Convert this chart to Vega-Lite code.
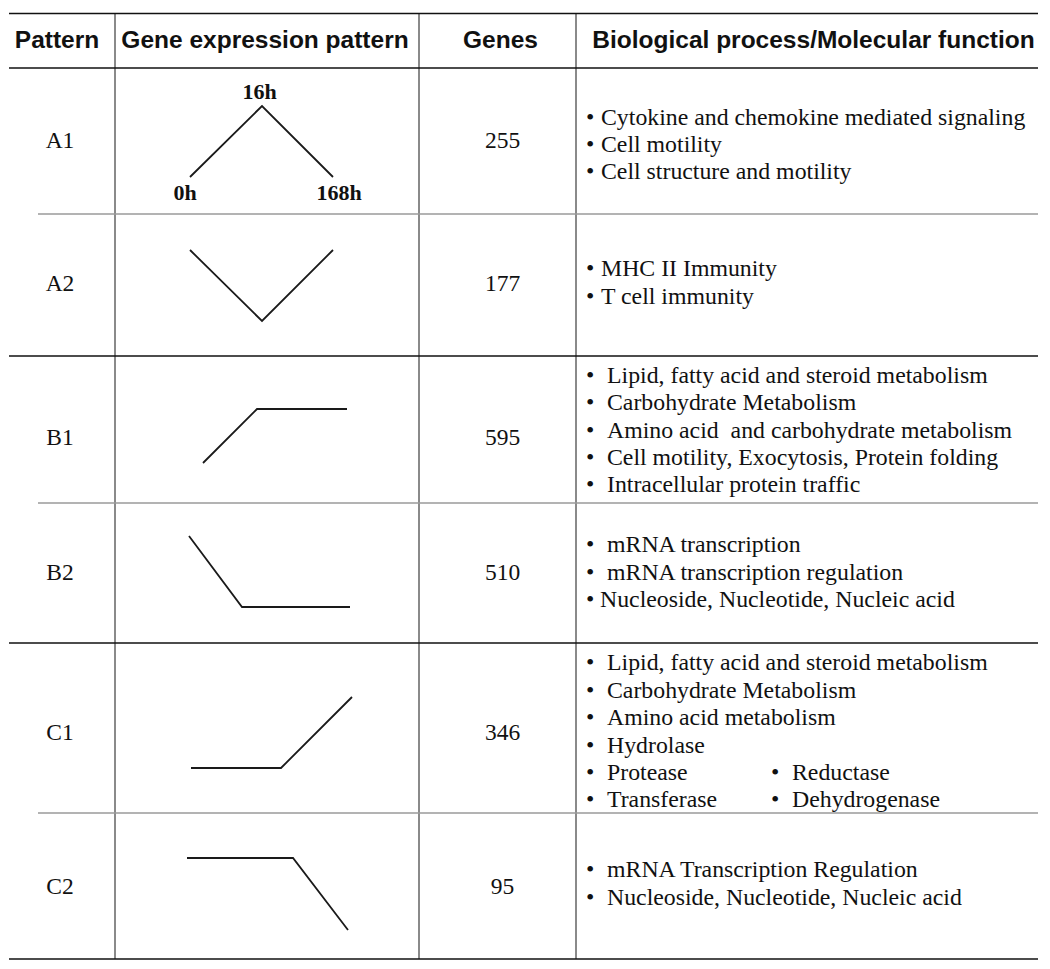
{
  "$schema": "https://vega.github.io/schema/vega-lite/v6.json",
  "width": 1050,
  "height": 969,
  "autosize": "none",
  "padding": 0,
  "background": "white",
  "config": {"view": {"stroke": null}},
  "datasets": {
    "borders": [
      {"x": 115, "x2": 115, "y": 13.5, "y2": 959, "k": "vert"},
      {"x": 419, "x2": 419, "y": 13.5, "y2": 959, "k": "vert"},
      {"x": 576, "x2": 576, "y": 13.5, "y2": 959, "k": "vert"},
      {"x": 38, "x2": 1038, "y": 214, "y2": 214, "k": "thin"},
      {"x": 38, "x2": 1038, "y": 503, "y2": 503, "k": "thin"},
      {"x": 38, "x2": 1038, "y": 813, "y2": 813, "k": "thin"},
      {"x": 9, "x2": 1038, "y": 13.5, "y2": 13.5, "k": "thick"},
      {"x": 9, "x2": 1038, "y": 68, "y2": 68, "k": "thick"},
      {"x": 9, "x2": 1038, "y": 356, "y2": 356, "k": "thick"},
      {"x": 9, "x2": 1038, "y": 643, "y2": 643, "k": "thick"},
      {"x": 9, "x2": 1038, "y": 959, "y2": 959, "k": "thick"}
    ],
    "header": [
      {"x": 57, "y": 48, "t": "Pattern"},
      {"x": 265, "y": 48, "t": "Gene expression pattern"},
      {"x": 500.5, "y": 48, "t": "Genes"},
      {"x": 813.5, "y": 48, "t": "Biological process/Molecular function"}
    ],
    "cells": [
      {"x": 60, "y": 148, "t": "A1"},
      {"x": 60, "y": 291, "t": "A2"},
      {"x": 60, "y": 445, "t": "B1"},
      {"x": 60, "y": 580, "t": "B2"},
      {"x": 60, "y": 740, "t": "C1"},
      {"x": 60, "y": 894, "t": "C2"},
      {"x": 502.5, "y": 148, "t": "255"},
      {"x": 502.5, "y": 291, "t": "177"},
      {"x": 502.5, "y": 445, "t": "595"},
      {"x": 502.5, "y": 580, "t": "510"},
      {"x": 502.5, "y": 740, "t": "346"},
      {"x": 502.5, "y": 894, "t": "95"}
    ],
    "times": [
      {"x": 259.5, "y": 99, "t": "16h"},
      {"x": 185, "y": 200, "t": "0h"},
      {"x": 339, "y": 200, "t": "168h"}
    ],
    "patterns": [
      {"p": "A1", "i": 0, "x": 190, "y": 177},
      {"p": "A1", "i": 1, "x": 262, "y": 106},
      {"p": "A1", "i": 2, "x": 333, "y": 177},
      {"p": "A2", "i": 0, "x": 190, "y": 250},
      {"p": "A2", "i": 1, "x": 262, "y": 321},
      {"p": "A2", "i": 2, "x": 333, "y": 250},
      {"p": "B1", "i": 0, "x": 203, "y": 463},
      {"p": "B1", "i": 1, "x": 257, "y": 409},
      {"p": "B1", "i": 2, "x": 347, "y": 409},
      {"p": "B2", "i": 0, "x": 189, "y": 536},
      {"p": "B2", "i": 1, "x": 242, "y": 607},
      {"p": "B2", "i": 2, "x": 350, "y": 607},
      {"p": "C1", "i": 0, "x": 191, "y": 768},
      {"p": "C1", "i": 1, "x": 281, "y": 768},
      {"p": "C1", "i": 2, "x": 352, "y": 697},
      {"p": "C2", "i": 0, "x": 187, "y": 858},
      {"p": "C2", "i": 1, "x": 293, "y": 858},
      {"p": "C2", "i": 2, "x": 348, "y": 930}
    ],
    "bio": [
      {"x": 586, "y": 125, "t": "•"},
      {"x": 601, "y": 125, "t": "Cytokine and chemokine mediated signaling"},
      {"x": 586, "y": 152, "t": "•"},
      {"x": 601, "y": 152, "t": "Cell motility"},
      {"x": 586, "y": 179, "t": "•"},
      {"x": 601, "y": 179, "t": "Cell structure and motility"},
      {"x": 586, "y": 276, "t": "•"},
      {"x": 601, "y": 276, "t": "MHC II Immunity"},
      {"x": 586, "y": 304, "t": "•"},
      {"x": 601, "y": 304, "t": "T cell immunity"},
      {"x": 586, "y": 383, "t": "•"},
      {"x": 607, "y": 383, "t": "Lipid, fatty acid and steroid metabolism"},
      {"x": 586, "y": 410, "t": "•"},
      {"x": 607, "y": 410, "t": "Carbohydrate Metabolism"},
      {"x": 586, "y": 437.5, "t": "•"},
      {"x": 607, "y": 437.5, "t": "Amino acid\u00a0 and carbohydrate metabolism"},
      {"x": 586, "y": 465, "t": "•"},
      {"x": 607, "y": 465, "t": "Cell motility, Exocytosis, Protein folding"},
      {"x": 586, "y": 492, "t": "•"},
      {"x": 607, "y": 492, "t": "Intracellular protein traffic"},
      {"x": 586, "y": 552, "t": "•"},
      {"x": 607, "y": 552, "t": "mRNA transcription"},
      {"x": 586, "y": 580, "t": "•"},
      {"x": 607, "y": 580, "t": "mRNA transcription regulation"},
      {"x": 586, "y": 607, "t": "•"},
      {"x": 600, "y": 607, "t": "Nucleoside, Nucleotide, Nucleic acid"},
      {"x": 586, "y": 670, "t": "•"},
      {"x": 607, "y": 670, "t": "Lipid, fatty acid and steroid metabolism"},
      {"x": 586, "y": 698, "t": "•"},
      {"x": 607, "y": 698, "t": "Carbohydrate Metabolism"},
      {"x": 586, "y": 725, "t": "•"},
      {"x": 607, "y": 725, "t": "Amino acid metabolism"},
      {"x": 586, "y": 753, "t": "•"},
      {"x": 607, "y": 753, "t": "Hydrolase"},
      {"x": 586, "y": 780, "t": "•"},
      {"x": 607, "y": 780, "t": "Protease"},
      {"x": 771, "y": 780, "t": "•"},
      {"x": 792, "y": 780, "t": "Reductase"},
      {"x": 586, "y": 807, "t": "•"},
      {"x": 607, "y": 807, "t": "Transferase"},
      {"x": 771, "y": 807, "t": "•"},
      {"x": 792, "y": 807, "t": "Dehydrogenase"},
      {"x": 586, "y": 877, "t": "•"},
      {"x": 607, "y": 877, "t": "mRNA Transcription Regulation"},
      {"x": 586, "y": 905, "t": "•"},
      {"x": 607, "y": 905, "t": "Nucleoside, Nucleotide, Nucleic acid"}
    ]
  },
  "layer": [
    {
      "data": {"name": "borders"},
      "mark": {"type": "rule"},
      "encoding": {
        "x": {"field": "x", "type": "quantitative", "scale": {"domain": [0, 1050], "nice": false, "zero": false}, "axis": null},
        "x2": {"field": "x2"},
        "y": {"field": "y", "type": "quantitative", "scale": {"domain": [0, 969], "nice": false, "zero": false, "reverse": true}, "axis": null},
        "y2": {"field": "y2"},
        "strokeWidth": {"field": "k", "type": "nominal", "scale": {"domain": ["vert", "thin", "thick"], "range": [2, 1.4, 3.2]}, "legend": null},
        "color": {"field": "k", "type": "nominal", "scale": {"domain": ["vert", "thin", "thick"], "range": ["#8a8a8a", "#9a9a9a", "#111111"]}, "legend": null}
      }
    },
    {
      "data": {"name": "patterns"},
      "mark": {"type": "line", "color": "#1a1a1a", "strokeWidth": 1.8},
      "encoding": {
        "x": {"field": "x", "type": "quantitative", "scale": {"domain": [0, 1050], "nice": false, "zero": false}, "axis": null},
        "y": {"field": "y", "type": "quantitative", "scale": {"domain": [0, 969], "nice": false, "zero": false, "reverse": true}, "axis": null},
        "detail": {"field": "p", "type": "nominal"},
        "order": {"field": "i", "type": "quantitative"}
      }
    },
    {
      "data": {"name": "header"},
      "mark": {"type": "text", "font": "Liberation Sans", "fontWeight": "bold", "fontSize": 24.5, "align": "center", "baseline": "alphabetic", "color": "#111111"},
      "encoding": {
        "x": {"field": "x", "type": "quantitative", "scale": {"domain": [0, 1050], "nice": false, "zero": false}, "axis": null},
        "y": {"field": "y", "type": "quantitative", "scale": {"domain": [0, 969], "nice": false, "zero": false, "reverse": true}, "axis": null},
        "text": {"field": "t", "type": "nominal"}
      }
    },
    {
      "data": {"name": "cells"},
      "mark": {"type": "text", "font": "Liberation Serif", "fontSize": 23.5, "align": "center", "baseline": "alphabetic", "color": "#111111"},
      "encoding": {
        "x": {"field": "x", "type": "quantitative", "scale": {"domain": [0, 1050], "nice": false, "zero": false}, "axis": null},
        "y": {"field": "y", "type": "quantitative", "scale": {"domain": [0, 969], "nice": false, "zero": false, "reverse": true}, "axis": null},
        "text": {"field": "t", "type": "nominal"}
      }
    },
    {
      "data": {"name": "times"},
      "mark": {"type": "text", "font": "Liberation Serif", "fontWeight": "bold", "fontSize": 22, "align": "center", "baseline": "alphabetic", "color": "#111111"},
      "encoding": {
        "x": {"field": "x", "type": "quantitative", "scale": {"domain": [0, 1050], "nice": false, "zero": false}, "axis": null},
        "y": {"field": "y", "type": "quantitative", "scale": {"domain": [0, 969], "nice": false, "zero": false, "reverse": true}, "axis": null},
        "text": {"field": "t", "type": "nominal"}
      }
    },
    {
      "data": {"name": "bio"},
      "mark": {"type": "text", "font": "Liberation Serif", "fontSize": 23.8, "align": "left", "baseline": "alphabetic", "color": "#111111"},
      "encoding": {
        "x": {"field": "x", "type": "quantitative", "scale": {"domain": [0, 1050], "nice": false, "zero": false}, "axis": null},
        "y": {"field": "y", "type": "quantitative", "scale": {"domain": [0, 969], "nice": false, "zero": false, "reverse": true}, "axis": null},
        "text": {"field": "t", "type": "nominal"}
      }
    }
  ]
}
